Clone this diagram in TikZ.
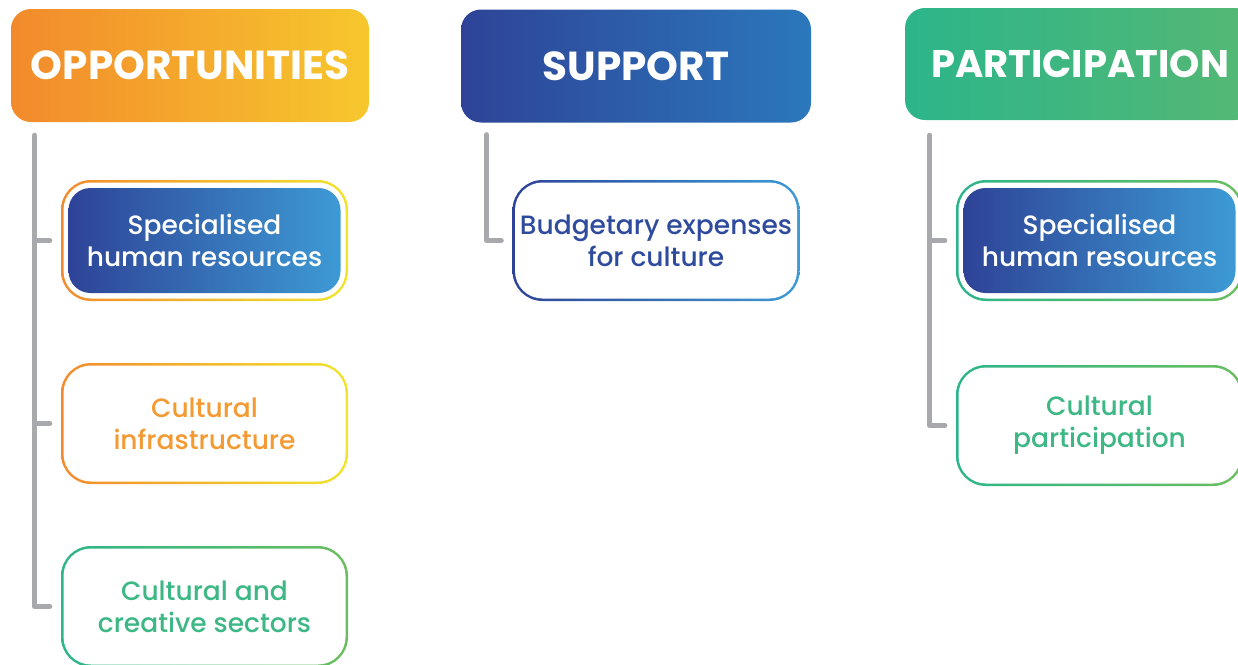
\documentclass[tikz,border=0pt]{standalone}
\usepackage{fontspec}
\setmainfont{Poppins}
\newfontfamily\boxfont{Poppins Medium}
\usepackage{tikz}
\usetikzlibrary{calc}

% palette
\definecolor{orgA}{HTML}{F28A2C}
\definecolor{orgB}{HTML}{F7C72D}
\definecolor{yelB}{HTML}{F2E42F}
\definecolor{orgtxt}{HTML}{F39A33}
\definecolor{bluA}{HTML}{2E4397}
\definecolor{bluB}{HTML}{2B78BC}
\definecolor{bluC}{HTML}{3D9AD4}
\definecolor{blutxt}{HTML}{2E4B9E}
\definecolor{grnA}{HTML}{2CB58A}
\definecolor{grnB}{HTML}{55B874}
\definecolor{grnC}{HTML}{6BBE5E}
\definecolor{grntxt}{HTML}{3DB885}
\definecolor{stemgray}{HTML}{A7A9AC}

\tikzset{
  head/.style={rounded corners=20pt, minimum width=358pt, minimum height=113pt,
    text=white, font=\bfseries\fontsize{40.5}{42}\selectfont},
  ring/.style={rounded corners=30pt, minimum width=287pt, minimum height=121pt},
  hole/.style={fill=white, rounded corners=27.5pt, minimum width=282pt, minimum height=116pt,
    align=center, font=\boxfont\fontsize{26.5}{32}\selectfont},
  plate/.style={rounded corners=22pt, minimum width=272pt, minimum height=105pt,
    left color=bluA, right color=bluC, text=white,
    align=center, font=\boxfont\fontsize{26.5}{32}\selectfont},
  stem/.style={draw=stemgray, line width=5pt, line cap=round, line join=round},
}

\begin{document}
\begin{tikzpicture}[x=1pt, y=-1pt]
    \useasboundingbox (0,0) rectangle (1238,664);
    \clip (0,0) rectangle (1238,664);

    % the three headings
    \node[head, left color=orgA, right color=orgB] (opp) at (190,65.5) {OPPORTUNITIES};
    \node[head, minimum width=350pt, left color=bluA, right color=bluB] (sup) at (636,66) {SUPPORT};
    \node[head, minimum width=350pt, minimum height=112pt, left color=grnA, right color=grnB,
          font=\bfseries\fontsize{38.5}{42}\selectfont] (par) at (1080,64) {PARTICIPATION};

    % first column
    \node[ring, left color=orgA, right color=yelB] (o1) at (204.5,240.5) {};
    \node[hole] at (o1) {};
    \node[plate] (o1t) at (o1) {Specialised\\human resources};

    \node[ring, left color=orgA, right color=yelB] (o2) at (204.5,423.5) {};
    \node[hole, text=orgtxt] (o2t) at (o2) {Cultural\\infrastructure};

    \node[ring, left color=grnA, right color=grnC] (o3) at (204.5,606.5) {};
    \node[hole, text=grntxt] (o3t) at (o3) {Cultural and\\creative sectors};

    % second column
    \node[ring, left color=bluA, right color=bluC] (s1) at (656,240.5) {};
    \node[hole, text=blutxt] (s1t) at (s1) {Budgetary expenses\\for culture};

    % third column
    \node[ring, left color=grnA, right color=grnC] (p1) at (1099.5,240.5) {};
    \node[hole] at (p1) {};
    \node[plate] (p1t) at (p1) {Specialised\\human resources};

    \node[ring, left color=grnA, right color=grnC] (p2) at (1099.5,425.5) {};
    \node[hole, text=grntxt] (p2t) at (p2) {Cultural\\participation};

    % grey brackets
    \coordinate (opptop) at ($(opp.south west)+(24,13)$);
    \coordinate (suptop) at ($(sup.south west)+(26,12)$);
    \coordinate (partop) at ($(par.south west)+(25,15)$);

    \draw[stem] (opptop) |- ([xshift=-11pt]o3.west);
    \draw[stem] (opptop |- o1.west) -- ([xshift=-11pt]o1.west);
    \draw[stem] (opptop |- o2.west) -- ([xshift=-11pt]o2.west);

    \draw[stem] (suptop) |- ([xshift=-11pt]s1.west);

    \draw[stem] (partop) |- ([xshift=-11pt]p2.west);
    \draw[stem] (partop |- p1.west) -- ([xshift=-11pt]p1.west);

\end{tikzpicture}
\end{document}
